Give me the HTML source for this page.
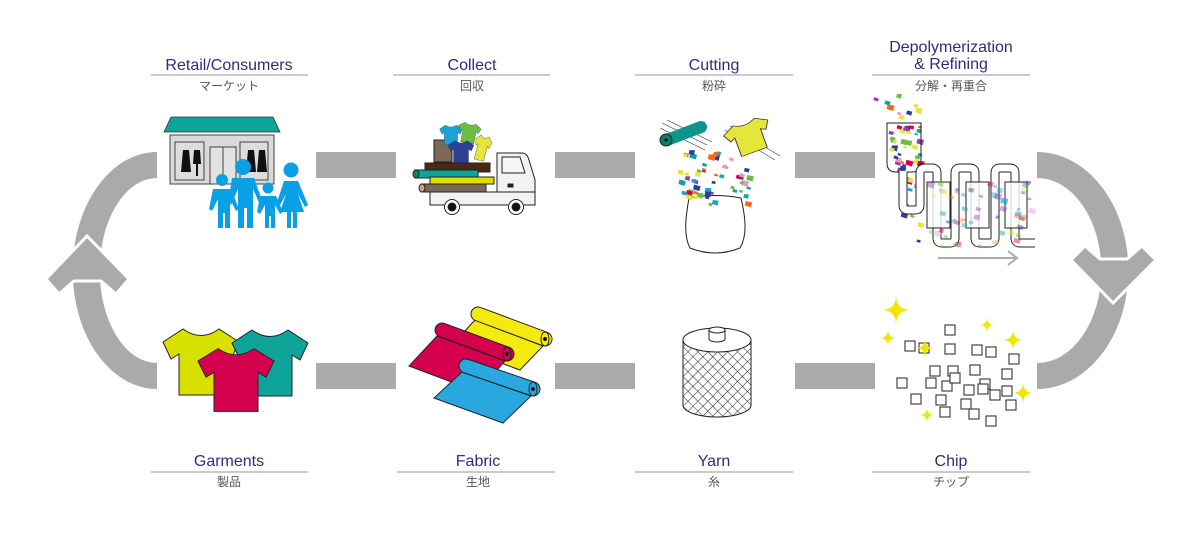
<!DOCTYPE html>
<html><head><meta charset="utf-8"><style>
html,body{margin:0;padding:0;background:#fff;}
svg{display:block}
.t{font-family:"Liberation Sans","DejaVu Sans",sans-serif;font-size:16px;fill:#2a2f7a;text-anchor:middle}
.j{font-family:"Liberation Sans","Noto Sans CJK JP",sans-serif;font-size:12px;fill:#555;text-anchor:middle}
</style></head><body>
<svg id="s" width="1200" height="533" viewBox="0 0 1200 533" xmlns="http://www.w3.org/2000/svg">
<defs>
<pattern id="hx" width="7" height="7" patternUnits="userSpaceOnUse" patternTransform="rotate(45)">
<path d="M0,0 L0,7 M0,0 L7,0" stroke="#222" stroke-width="1"/>
</pattern>
<path id="shirt" d="M-18,-33 Q0,-20 18,-33 L38,-20 L30,-3 L22,-8 L22,33 L-22,33 L-22,-8 L-30,-3 L-38,-20 Z"/>
</defs>

<g>
<text class="t" x="229" y="70">Retail/Consumers</text>
<text class="t" x="472" y="70">Collect</text>
<text class="t" x="714" y="70">Cutting</text>
<text class="t" x="951" y="52">Depolymerization</text>
<text class="t" x="951" y="69">&amp; Refining</text>
<g stroke="#aaa" stroke-width="1.2">
<line x1="151" y1="75" x2="308" y2="75"/><line x1="393" y1="75" x2="550" y2="75"/>
<line x1="635" y1="75" x2="793" y2="75"/><line x1="872" y1="75" x2="1030" y2="75"/>
<line x1="151" y1="472" x2="308" y2="472"/><line x1="397" y1="472" x2="555" y2="472"/>
<line x1="635" y1="472" x2="793" y2="472"/><line x1="872" y1="472" x2="1030" y2="472"/>
</g>
<text class="j" x="229" y="90">マーケット</text>
<text class="j" x="472" y="90">回収</text>
<text class="j" x="714" y="90">粉砕</text>
<text class="j" x="951" y="90">分解・再重合</text>
<text class="t" x="229" y="466">Garments</text>
<text class="t" x="478" y="466">Fabric</text>
<text class="t" x="714" y="466">Yarn</text>
<text class="t" x="951" y="466">Chip</text>
<text class="j" x="229" y="486">製品</text>
<text class="j" x="478" y="486">生地</text>
<text class="j" x="714" y="486">糸</text>
<text class="j" x="951" y="486">チップ</text>
</g>

<g fill="#aaa">
<rect x="316" y="152" width="80" height="26"/><rect x="555" y="152" width="80" height="26"/><rect x="795" y="152" width="80" height="26"/>
<rect x="316" y="363" width="80" height="26"/><rect x="555" y="363" width="80" height="26"/><rect x="795" y="363" width="80" height="26"/>
<path d="M157,152 A84,118 0 0 0 157,389 L157,363 A57,92 0 0 1 157,178 Z"/>
<path d="M1037,152 A91,118 0 0 1 1037,389 L1037,363 A64,92 0 0 0 1037,178 Z"/>
<polygon points="87,236 129,279 116,294 101,281 74,281 59,294 46,279" stroke="#fff" stroke-width="3"/>
<polygon points="1113,303 1071,260 1085,246 1100,259 1127,259 1142,246 1156,260" stroke="#fff" stroke-width="3"/>
</g>

<polygon points="171,117 273,117 280,132 164,132" fill="#0ea49a" stroke="#333" stroke-width="0.8"/>
<rect x="170" y="135" width="104" height="49" fill="#d9d9d9" stroke="#444"/>
<rect x="175" y="142" width="29" height="38" fill="#ddd" stroke="#444"/>
<rect x="240" y="142" width="28" height="38" fill="#ddd" stroke="#444"/>
<rect x="210" y="147" width="26" height="37" fill="#e2e2e2" stroke="#444"/>
<line x1="223" y1="147" x2="223" y2="184" stroke="#444"/>
<g fill="#111">
<path d="M183,150 h6 l2,22 h-10z"/><path d="M194,150 h6 l1,14 h-8z"/><rect x="196" y="164" width="2" height="12"/>
<path d="M248,150 h6 l2,22 h-10z"/><path d="M259,150 h6 l2,22 h-10z"/>
</g>
<g fill="#0aa0e6">
<circle cx="222" cy="180" r="6"/><path d="M213,189 h18 l8,20 -3,2 -6,-12 v29 h-5 v-15 h-2 v15 h-5 v-29 l-6,12 -3,-2z"/>
<circle cx="243" cy="167" r="8"/><path d="M232,178 h22 l9,25 -3,2 -7,-16 v39 h-6 v-20 h-3 v20 h-6 v-39 l-7,16 -3,-2z"/>
<circle cx="268" cy="188" r="5.5"/><path d="M260,196 h16 l7,16 -3,2 -5,-9 v23 h-4 v-12 h-2 v12 h-4 v-23 l-5,9 -3,-2z"/>
<circle cx="291" cy="170" r="7.5"/><path d="M284,181 h14 l10,24 -3,2 -7,-13 l6,18 h-7 v16 h-4 v-16 h-2 v16 h-4 v-16 h-7 l6,-18 -7,13 -3,-2z"/>
</g>

<g stroke="#222" stroke-width="1">
<rect x="434" y="140" width="18" height="22" fill="#7a6a55"/>
<use href="#shirt" transform="translate(451,135) scale(0.3)" fill="#1aa3d9"/>
<use href="#shirt" transform="translate(469,133) rotate(10) scale(0.3)" fill="#6dbd45"/>
<use href="#shirt" transform="translate(482,148) rotate(15) scale(0.22,0.38)" fill="#e8e43a"/>
<use href="#shirt" transform="translate(461,152) scale(0.34)" fill="#2f3f95"/>
<rect x="425" y="163" width="65" height="9" fill="#4a2a15"/>
<rect x="415" y="170" width="63" height="8" fill="#0ea49a"/><ellipse cx="416" cy="174" rx="3" ry="4" fill="#0a8a50"/>
<rect x="430" y="177" width="64" height="7" fill="#dddd00"/>
<rect x="421" y="184" width="65" height="8" fill="#7a6a55"/><ellipse cx="422" cy="188" rx="3" ry="4" fill="#c9a888"/>
<path d="M497,192 V153 H522 Q527,153 529,160 L535,180 V205 H497 Z" fill="#f2f2f2"/>
<path d="M502,157 h18 l5,16 h-23z" fill="#f6f6f6"/>
<rect x="430" y="192" width="105" height="13" fill="#f2f2f2"/>
<rect x="508" y="184" width="5" height="3" fill="#222"/>
<circle cx="452" cy="207" r="7.5" fill="#fff"/><circle cx="452" cy="207" r="4" fill="#111"/>
<circle cx="516" cy="207" r="7.5" fill="#fff"/><circle cx="516" cy="207" r="4" fill="#111"/>
</g>

<g stroke="#333" stroke-width="0.6">
<line x1="660" y1="128" x2="705" y2="150"/><line x1="662" y1="123" x2="707" y2="145"/><line x1="667" y1="120" x2="712" y2="142"/>
<line x1="725" y1="130" x2="775" y2="160"/><line x1="730" y1="126" x2="780" y2="156"/>
</g>
<line x1="667" y1="140" x2="701" y2="127" stroke="#0e9488" stroke-width="12" stroke-linecap="round"/>
<circle cx="666" cy="140" r="6" fill="#0e7a6a" stroke="#222"/><circle cx="666" cy="140" r="1.5" fill="#000"/>
<use href="#shirt" transform="translate(749,137) rotate(-20) scale(0.62,0.48)" fill="#e6e63a" stroke="#333" stroke-width="1.5"/>
<path d="M689,198 Q715,193 741,198 C745,215 748,235 740,248 Q715,258 690,248 C683,235 686,215 689,198 Z" fill="#fff" stroke="#222"/>
<g id="conf1"></g>

<g id="conf2"></g>
<path d="M887,123 H921 V163 Q921,172 912,172 H896 Q887,172 887,163 Z" fill="none" stroke="#222"/>
<path d="M903,172 V205 Q903,210 908,210 H915 Q920,210 920,205 V173 Q920,168 925,168 H932 Q937,168 937,173 V238 Q937,243 942,243 H950 Q955,243 955,238 V173 Q955,168 960,168 H970 Q975,168 975,173 V238 Q975,243 980,243 H990 Q995,243 995,238 V173 Q995,168 1000,168 H1010 Q1015,168 1015,173 V238 Q1015,243 1020,243 H1035" fill="none" stroke="#222" stroke-width="9"/>
<path d="M903,171 V205 Q903,210 908,210 H915 Q920,210 920,205 V173 Q920,168 925,168 H932 Q937,168 937,173 V238 Q937,243 942,243 H950 Q955,243 955,238 V173 Q955,168 960,168 H970 Q975,168 975,173 V238 Q975,243 980,243 H990 Q995,243 995,238 V173 Q995,168 1000,168 H1010 Q1015,168 1015,173 V238 Q1015,243 1020,243 H1036" fill="none" stroke="#fff" stroke-width="7"/>
<g fill="#fff" fill-opacity="0.8" stroke="#222">
<rect x="927" y="182" width="23" height="46"/><rect x="966" y="182" width="23" height="46"/><rect x="1005" y="182" width="22" height="46"/>
</g>
<g id="conf3"></g>
<path d="M938,258 H1017 M1008,251 L1017,258 L1008,265" fill="none" stroke="#aaa" stroke-width="2"/>

<g stroke="#222" stroke-width="1">
<use href="#shirt" transform="translate(201,362)" fill="#d8e000"/>
<use href="#shirt" transform="translate(270,363)" fill="#0ea49a"/>
<use href="#shirt" transform="translate(236,380) scale(1,0.95)" fill="#d4004e"/>
</g>

<g stroke="#222" stroke-width="1">
<polygon points="475,320 543,346 520,370 452,345" fill="#f4ea10"/>
<line x1="478" y1="314" x2="545" y2="339" stroke="#222" stroke-width="15" stroke-linecap="round"/>
<line x1="478" y1="314" x2="545" y2="339" stroke="#f4ea10" stroke-width="13" stroke-linecap="round"/>
<ellipse cx="545" cy="339" rx="4" ry="7" fill="#f4ea10"/><circle cx="545" cy="339" r="1.6" fill="#000"/>
<polygon points="437,336 505,361 478,392 409,366" fill="#d4004e"/>
<line x1="442" y1="330" x2="507" y2="354" stroke="#222" stroke-width="15" stroke-linecap="round"/>
<line x1="442" y1="330" x2="507" y2="354" stroke="#d4004e" stroke-width="13" stroke-linecap="round"/>
<ellipse cx="507" cy="354" rx="4" ry="7" fill="#d4004e"/><circle cx="507" cy="354" r="1.6" fill="#000"/>
<polygon points="462,372 531,396 503,423 434,398" fill="#29a8e0"/>
<line x1="466" y1="366" x2="533" y2="389" stroke="#222" stroke-width="15" stroke-linecap="round"/>
<line x1="466" y1="366" x2="533" y2="389" stroke="#29a8e0" stroke-width="13" stroke-linecap="round"/>
<ellipse cx="533" cy="389" rx="4" ry="7" fill="#29a8e0"/><circle cx="533" cy="389" r="1.6" fill="#000"/>
</g>

<g stroke="#222" stroke-width="1">
<path d="M683,340 V405 A34,12 0 0 0 751,405 V340 Z" fill="url(#hx)"/>
<ellipse cx="717" cy="340" rx="34" ry="12" fill="#fff"/>
<path d="M709,330 V339 A8,3 0 0 0 725,339 V330" fill="#fff"/>
<ellipse cx="717" cy="330" rx="8" ry="3" fill="#fff"/>
</g>

<g id="chips" fill="#fff" stroke="#333" stroke-width="1.1"></g>
<g id="spk" fill="#f0e600"></g>
</svg>
<script>
var NS="http://www.w3.org/2000/svg";
var seed=7;function r(){seed=(seed*9301+49297)%233280;return seed/233280;}
var cols=["#e6e63a","#0ea49a","#d4004e","#2f3f95","#6dbd45","#f26a1b","#8e44ad","#e89ac7","#1aa3d9"];
function conf(id,x0,y0,w,h,n,op){var g=document.getElementById(id);
for(var i=0;i<n;i++){var x=x0+r()*w,y=y0+r()*h,s=3+r()*4;var p=document.createElementNS(NS,"polygon");
p.setAttribute("points",(x)+","+(y)+" "+(x+s)+","+(y+r()*2)+" "+(x+s*0.8)+","+(y+s)+" "+(x-1)+","+(y+s*0.7));
p.setAttribute("fill",cols[Math.floor(r()*cols.length)]);p.setAttribute("fill-opacity",op);g.appendChild(p);}}
conf("conf1",678,150,70,55,55,1);
conf("conf2",870,92,50,35,10,1);
conf("conf2",889,125,30,45,35,1);
conf("conf2",900,170,22,70,14,1);
conf("conf3",925,180,105,65,60,0.45);
var sq=[[950,330],[910,346],[924,348],[950,349],[977,350],[991,352],[1014,359],[935,371],[953,371],[975,370],[1007,374],[931,383],[947,386],[985,384],[902,383],[983,389],[969,390],[995,395],[1007,391],[916,399],[941,400],[966,404],[1011,405],[945,412],[974,414],[991,421],[955,378]];
var cg=document.getElementById("chips");sq.forEach(function(p){var e=document.createElementNS(NS,"rect");e.setAttribute("x",p[0]-5);e.setAttribute("y",p[1]-5);e.setAttribute("width",10);e.setAttribute("height",10);cg.appendChild(e);});
var sp=[[896,310,15],[888,338,9],[925,348,10],[987,325,8],[1013,340,11],[1023,393,11],[927,415,8]];
var sg=document.getElementById("spk");sp.forEach(function(p){var x=p[0],y=p[1],s=p[2];var e=document.createElementNS(NS,"path");
e.setAttribute("d","M"+x+","+(y-s)+" Q"+x+","+y+" "+(x+s)+","+y+" Q"+x+","+y+" "+x+","+(y+s)+" Q"+x+","+y+" "+(x-s)+","+y+" Q"+x+","+y+" "+x+","+(y-s)+"Z");sg.appendChild(e);});
</script>
</body></html>
